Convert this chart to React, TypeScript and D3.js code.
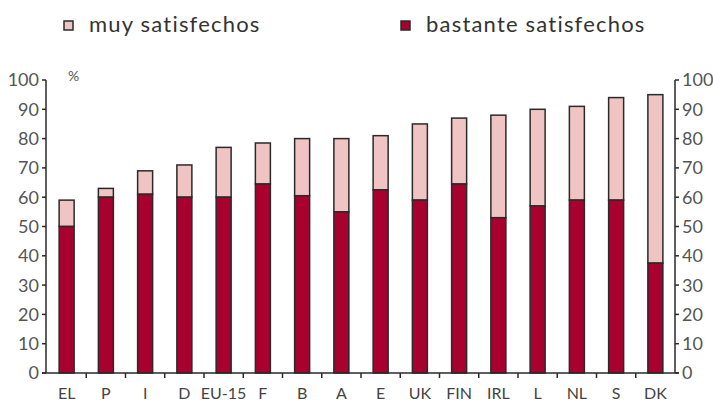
import React from "react";
import * as d3 from "d3";

const countries = ["EL", "P", "I", "D", "EU-15", "F", "B", "A", "E", "UK", "FIN", "IRL", "L", "NL", "S", "DK"];
// "bastante satisfechos" (bottom segment)
const bastante = [50, 60, 61, 60, 60, 64.5, 60.5, 55, 62.5, 59, 64.5, 53, 57, 59, 59, 37.5];
// total of both segments (top of the bar)
const totals = [59, 63, 69, 71, 77, 78.5, 80, 80, 81, 85, 87, 88, 90, 91, 94, 95];
const yTicks = [0, 10, 20, 30, 40, 50, 60, 70, 80, 90, 100];
const legendLabels = ["muy satisfechos", "bastante satisfechos"];

const W = 713;
const H = 404;
const left = 46;
const right = 675;
const top = 80;
const bottom = 373;

const DARK = "#a8002f";
const LIGHT = "#f1c4c4";
const EDGE = "#2a2a2a";
const FONT = "'Lato', 'DejaVu Sans', sans-serif";

const App = () => {
  const x = d3.scaleBand<string>().domain(countries).range([left + 1, right]).paddingInner(0).paddingOuter(0);
  const y = d3.scaleLinear().domain([0, 100]).range([bottom, top]);
  const bw = 15;
  const boundaries = countries.slice(1).map((c) => x(c) as number);

  return (
    <svg
      width={W}
      height={H}
      style={{ position: "absolute", left: 0, top: 0, background: "#fff" }}
      fontFamily={FONT}
    >
      {/* legend */}
      <rect x={64} y={21} width={9} height={9} fill={LIGHT} stroke={EDGE} strokeWidth={1.5} />
      <text x={89} y={31.5} fontSize={22} letterSpacing={1.2} fill="#333">{legendLabels[0]}</text>
      <rect x={401} y={21} width={9} height={9} fill={DARK} stroke={EDGE} strokeWidth={1.5} />
      <text x={426} y={31.5} fontSize={22} letterSpacing={1.2} fill="#333">{legendLabels[1]}</text>

      <text x={68} y={81} fontSize={14} fill="#555">%</text>

      {/* bars */}
      {countries.map((c, i) => {
        const cx = (x(c) as number) + x.bandwidth() / 2;
        return (
          <g key={c}>
            <rect
              x={cx - bw / 2}
              y={y(totals[i])}
              width={bw}
              height={y(bastante[i]) - y(totals[i])}
              fill={LIGHT}
              stroke={EDGE}
              strokeWidth={1.5}
            />
            <rect
              x={cx - bw / 2}
              y={y(bastante[i])}
              width={bw}
              height={y(0) - y(bastante[i])}
              fill={DARK}
              stroke={EDGE}
              strokeWidth={1.5}
            />
          </g>
        );
      })}

      {/* left axis */}
      <line x1={left} x2={left} y1={y(100)} y2={y(0)} stroke={EDGE} strokeWidth={1.5} />
      {yTicks.map((t) => (
        <g key={"l" + t}>
          <line x1={left - 4} x2={left} y1={y(t)} y2={y(t)} stroke={EDGE} strokeWidth={1.5} />
          <text x={left - 7} y={y(t)} dy="0.36em" textAnchor="end" fontSize={18} fill="#555">{t}</text>
        </g>
      ))}

      {/* right axis */}
      <line x1={right} x2={right} y1={y(100)} y2={y(0)} stroke={EDGE} strokeWidth={1.5} />
      {yTicks.map((t) => (
        <g key={"r" + t}>
          <line x1={right} x2={right + 4} y1={y(t)} y2={y(t)} stroke={EDGE} strokeWidth={1.5} />
          <text x={right + 7} y={y(t)} dy="0.36em" textAnchor="start" fontSize={18} fill="#555">{t}</text>
        </g>
      ))}

      {/* bottom axis */}
      <line x1={left - 4} x2={right + 4} y1={y(0)} y2={y(0)} stroke={EDGE} strokeWidth={1.5} />
      {boundaries.map((bx, i) => (
        <line key={"b" + i} x1={bx} x2={bx} y1={y(0)} y2={y(0) + 5} stroke={EDGE} strokeWidth={1.5} />
      ))}
      {countries.map((c) => (
        <text
          key={"t" + c}
          x={(x(c) as number) + x.bandwidth() / 2}
          y={399}
          textAnchor="middle"
          fontSize={16}
          fill="#444"
        >
          {c}
        </text>
      ))}
    </svg>
  );
};

export default App;
